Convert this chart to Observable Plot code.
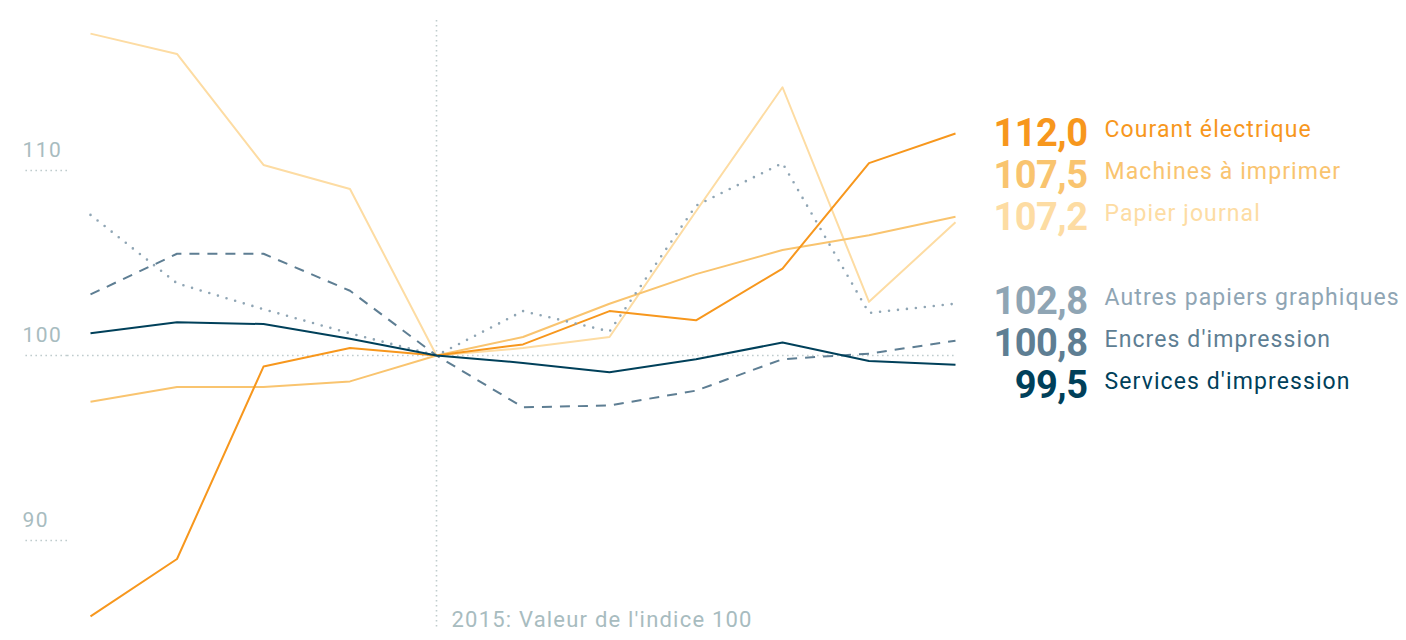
<!DOCTYPE html>
<html>
<head>
<meta charset="utf-8">
<script src="https://cdn.jsdelivr.net/npm/d3@7"></script>
<script src="https://cdn.jsdelivr.net/npm/@observablehq/plot@0.6"></script>
<style>
  html, body { margin: 0; padding: 0; background: #fff; }
  svg { display: block; }
  svg g[font-size="23"] text { letter-spacing: 1.1px; }
  svg g[font-size="22"] text { letter-spacing: 1.2px; }
  svg g[font-size="21"] text { letter-spacing: 1.5px; }
  svg g[font-size="38"] text { letter-spacing: -0.5px; }
</style>
</head>
<body>
<div id="chart"></div>
<script>
// ---- data ----
const years = [2011, 2012, 2013, 2014, 2015, 2016, 2017, 2018, 2019, 2020, 2021];
const seriesNames = ["Papier journal", "Machines à imprimer", "Courant électrique", "Autres papiers graphiques", "Encres d'impression", "Services d'impression"];
const papierJournal = [117.4, 116.3, 110.3, 109.0, 100, 100.4, 101.0, 107.8, 114.5, 102.9, 107.2];
const machines      = [97.5, 98.3, 98.3, 98.6, 100, 101.0, 102.8, 104.4, 105.7, 106.5, 107.5];
const courant       = [85.9, 89.0, 99.4, 100.4, 100, 100.6, 102.4, 101.9, 104.7, 110.4, 112.0];
const autres        = [107.6, 103.9, 102.5, 101.2, 100, 102.4, 101.3, 108.1, 110.4, 102.3, 102.8];
const encres        = [103.3, 105.5, 105.5, 103.5, 100, 97.2, 97.3, 98.1, 99.8, 100.1, 100.8];
const services      = [101.2, 101.8, 101.7, 100.9, 100, 99.6, 99.1, 99.8, 100.7, 99.7, 99.5];
const yTicks = [90, 100, 110];
const baseYear = 2015;
const baseNote = "2015: Valeur de l'indice 100";

// ---- styles ----
const seriesValues = [papierJournal, machines, courant, autres, encres, services];
const styles = [
  {color: "#fddca3", dash: null, width: 2},
  {color: "#f9c46f", dash: null, width: 2},
  {color: "#f7971d", dash: null, width: 2},
  {color: "#8fa5b4", dash: "0 9", width: 2.6, cap: "round"},
  {color: "#5e7e93", dash: "10 8", width: 2},
  {color: "#00405a", dash: null, width: 2}
];
const slotIndex = [2, 1, 0, 4, 5, 6];

const tables = seriesNames.map((name, i) => years.map((year, j) => ({year, value: seriesValues[i][j], name})));
const fmt = v => v.toFixed(1).replace(".", ",");

const gridColor = "#bfcccd";
const tickText = "#a8bcbf";
const font = "Roboto, 'Noto Sans', sans-serif";
const dots = {stroke: gridColor, strokeWidth: 1.6, strokeDasharray: "1.6 3.4"};

const marks = [
  Plot.ruleY([100], dots),
  Plot.axisY({ticks: yTicks, anchor: "left", tickSize: 45, tickPadding: 0, ...dots, tickFormat: () => "", label: null}),
  Plot.axisY({
    ticks: yTicks, anchor: "left", tickSize: 0, tickPadding: 45,
    textAnchor: "start", dy: -20, fill: tickText, fontSize: 21,
    tickFormat: d => String(d), label: null
  }),
  Plot.ruleX([baseYear], dots),
  Plot.text([baseNote], {x: () => baseYear, frameAnchor: "bottom", textAnchor: "start", lineAnchor: "bottom", dx: 15, dy: -2, fill: tickText, fontSize: 22}),
];

tables.forEach((t, i) => {
  const s = styles[i];
  marks.push(Plot.line(t, {
    x: "year", y: "value", stroke: s.color, strokeWidth: s.width,
    strokeDasharray: s.dash || undefined, strokeLinecap: s.cap || "butt", strokeLinejoin: "round"
  }));
});

tables.forEach((t, i) => {
  const s = styles[i];
  const last = t[t.length - 1];
  const dy = 99 + slotIndex[i] * 42;
  marks.push(Plot.text([last], {
    x: "year", frameAnchor: "top", text: d => fmt(d.value),
    dx: 132, dy, textAnchor: "end", fill: s.color, fontSize: 38, fontWeight: 700
  }));
  marks.push(Plot.text([last], {
    x: "year", frameAnchor: "top", text: "name",
    dx: 149, dy: dy + 1, textAnchor: "start", fill: s.color, fontSize: 23
  }));
});

const chart = Plot.plot({
  width: 1406,
  height: 640,
  marginLeft: 67,
  marginRight: 451,
  marginTop: 20,
  marginBottom: 12,
  style: {fontFamily: font, background: "#fff", overflow: "visible"},
  x: {domain: [2011, 2021], range: [90, 955], axis: null},
  y: {domain: [90, 110], range: [540, 170], axis: null},
  marks
});
document.getElementById("chart").appendChild(chart);
</script>
</body>
</html>
